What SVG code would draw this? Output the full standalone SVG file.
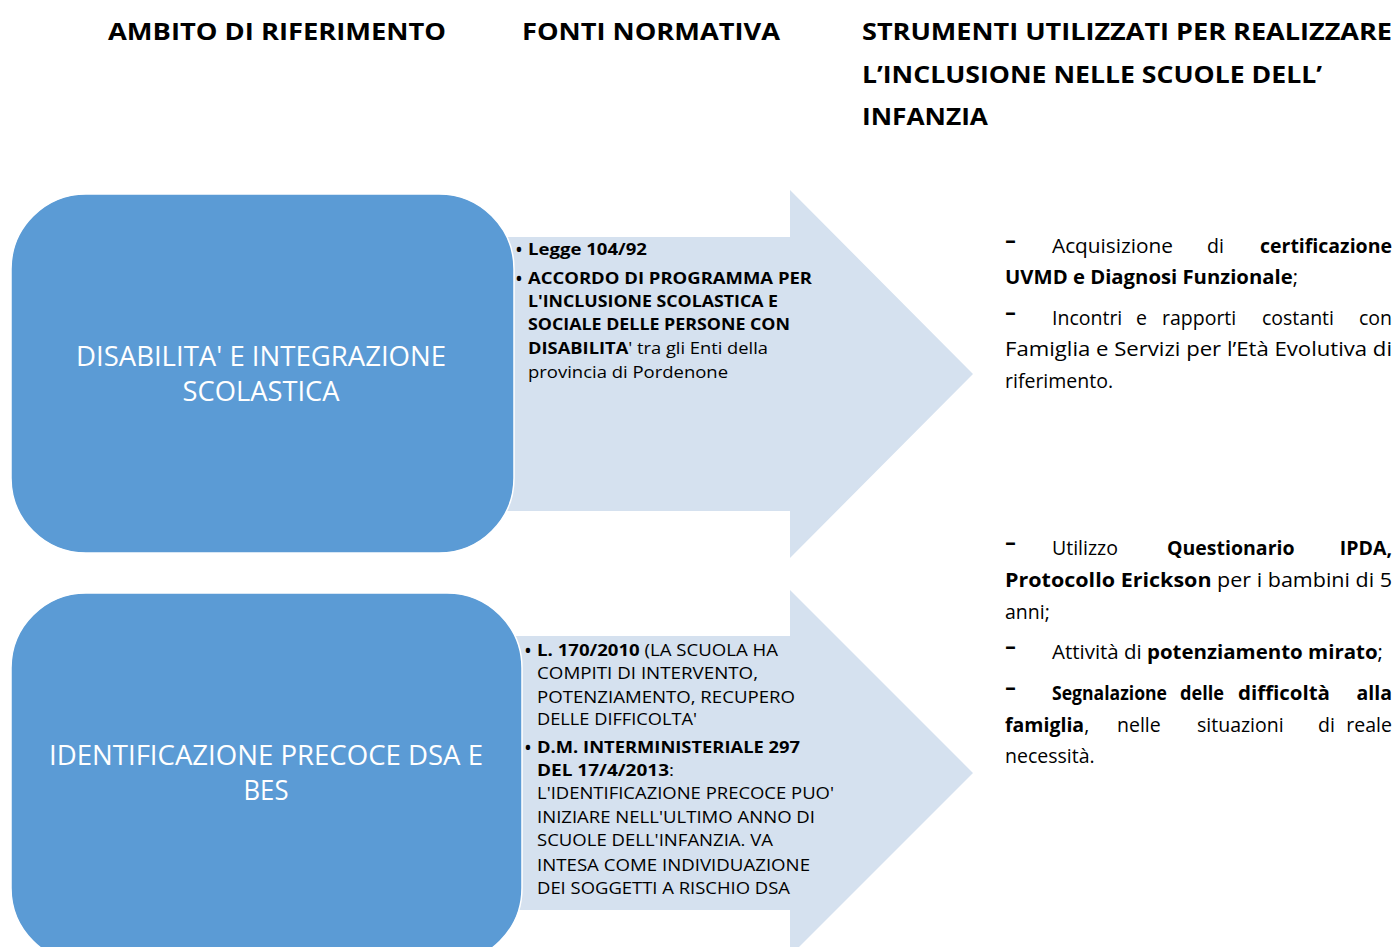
<svg xmlns="http://www.w3.org/2000/svg" width="1397" height="947" viewBox="0 0 1397 947">
<style>
text{font-family:"Open Sans","Noto Sans","Liberation Sans",sans-serif;fill:#000}
.h{font-weight:700;font-size:24px}
.box{fill:#5B9BD5;stroke:#fff;stroke-width:1.5}
.arr{fill:#D5E1EF}
.bt{fill:#fff;font-size:28px;text-anchor:middle}
.at{font-size:16.5px}
.bl{font-size:21px}
.b{font-weight:700}
.rt{font-size:19.5px}
.d{font-size:22px;font-weight:700}
.e{text-anchor:end}
</style>
<rect width="1397" height="947" fill="#fff"/>
<g id="headers">
<text class="h" x="108" y="40" textLength="338" lengthAdjust="spacingAndGlyphs">AMBITO DI RIFERIMENTO</text>
<text class="h" x="522" y="40" textLength="258" lengthAdjust="spacingAndGlyphs">FONTI NORMATIVA</text>
<text class="h" x="862" y="40" textLength="530" lengthAdjust="spacingAndGlyphs">STRUMENTI UTILIZZATI PER REALIZZARE</text>
<text class="h" x="862" y="83" textLength="460" lengthAdjust="spacingAndGlyphs">L’INCLUSIONE NELLE SCUOLE DELL’</text>
<text class="h" x="862" y="125" textLength="126" lengthAdjust="spacingAndGlyphs">INFANZIA</text>
</g>
<g id="connectors">
<polygon id="arrow1" class="arr" points="505,237 790,237 790,190 973,374 790,558 790,511 505,511"/>
<polygon id="arrow2" class="arr" points="512,636 790,636 790,590 973,773 790,956 790,910 512,910"/>
</g>
<g id="node1">
<rect class="box" x="11" y="194" width="503" height="359" rx="75" ry="75"/>
<text class="bt" x="261" y="366" textLength="370" lengthAdjust="spacingAndGlyphs">DISABILITA' E INTEGRAZIONE</text>
<text class="bt" x="261" y="401" textLength="157" lengthAdjust="spacingAndGlyphs">SCOLASTICA</text>
</g>
<g id="node2">
<rect class="box" x="11" y="593" width="511" height="370" rx="75" ry="75"/>
<text class="bt" x="266" y="765" textLength="434" lengthAdjust="spacingAndGlyphs">IDENTIFICAZIONE PRECOCE DSA E</text>
<text class="bt" x="266" y="800" textLength="45" lengthAdjust="spacingAndGlyphs">BES</text>
</g>
<g id="fonti1" class="at">
<text x="515" y="257" class="bl">•</text>
<text x="528" y="255" class="b" textLength="119" lengthAdjust="spacingAndGlyphs">Legge 104/92</text>
<text x="515" y="286" class="bl">•</text>
<text x="528" y="284" class="b" textLength="284" lengthAdjust="spacingAndGlyphs">ACCORDO DI PROGRAMMA PER</text>
<text x="528" y="307" class="b" textLength="250" lengthAdjust="spacingAndGlyphs">L'INCLUSIONE SCOLASTICA E</text>
<text x="528" y="330" class="b" textLength="262" lengthAdjust="spacingAndGlyphs">SOCIALE DELLE PERSONE CON</text>
<text x="528" y="354" textLength="240" lengthAdjust="spacingAndGlyphs"><tspan class="b">DISABILITA</tspan>' tra gli Enti della</text>
<text x="528" y="378" textLength="200" lengthAdjust="spacingAndGlyphs">provincia di Pordenone</text>
</g>
<g id="fonti2" class="at">
<text x="524" y="658" class="bl">•</text>
<text x="537" y="656" textLength="241" lengthAdjust="spacingAndGlyphs"><tspan class="b">L. 170/2010</tspan> (LA SCUOLA HA</text>
<text x="537" y="679" textLength="221" lengthAdjust="spacingAndGlyphs">COMPITI DI INTERVENTO,</text>
<text x="537" y="703" textLength="258" lengthAdjust="spacingAndGlyphs">POTENZIAMENTO, RECUPERO</text>
<text x="537" y="725" textLength="160" lengthAdjust="spacingAndGlyphs">DELLE DIFFICOLTA'</text>
<text x="524" y="755" class="bl">•</text>
<text x="537" y="753" class="b" textLength="263" lengthAdjust="spacingAndGlyphs">D.M. INTERMINISTERIALE 297</text>
<text x="537" y="776" textLength="137" lengthAdjust="spacingAndGlyphs"><tspan class="b">DEL 17/4/2013</tspan>:</text>
<text x="537" y="799" textLength="297" lengthAdjust="spacingAndGlyphs">L'IDENTIFICAZIONE PRECOCE PUO'</text>
<text x="537" y="823" textLength="278" lengthAdjust="spacingAndGlyphs">INIZIARE NELL'ULTIMO ANNO DI</text>
<text x="537" y="846" textLength="236" lengthAdjust="spacingAndGlyphs">SCUOLE DELL'INFANZIA. VA</text>
<text x="537" y="871" textLength="273" lengthAdjust="spacingAndGlyphs">INTESA COME INDIVIDUAZIONE</text>
<text x="537" y="894" textLength="253" lengthAdjust="spacingAndGlyphs">DEI SOGGETTI A RISCHIO DSA</text>
</g>
<g id="strumenti1" class="rt">
<text x="1005" y="247" class="d" textLength="11" lengthAdjust="spacingAndGlyphs">-</text>
<text x="1052" y="253" textLength="121" lengthAdjust="spacingAndGlyphs">Acquisizione</text>
<text x="1207" y="253">di</text>
<text x="1392" y="253" class="b e">certificazione</text>
<text x="1005" y="284" textLength="293" lengthAdjust="spacingAndGlyphs"><tspan class="b">UVMD e Diagnosi Funzionale</tspan>;</text>
<text x="1005" y="319" class="d" textLength="11" lengthAdjust="spacingAndGlyphs">-</text>
<text x="1052" y="325">Incontri</text>
<text x="1136" y="325">e</text>
<text x="1162" y="325">rapporti</text>
<text x="1262" y="325">costanti</text>
<text x="1392" y="325" class="e">con</text>
<text x="1005" y="356" textLength="387" lengthAdjust="spacingAndGlyphs">Famiglia e Servizi per l’Età Evolutiva di</text>
<text x="1005" y="388">riferimento.</text>
</g>
<g id="strumenti2" class="rt">
<text x="1005" y="549" class="d" textLength="11" lengthAdjust="spacingAndGlyphs">-</text>
<text x="1052" y="555">Utilizzo</text>
<text x="1167" y="555" class="b">Questionario</text>
<text x="1392" y="555" class="b e">IPDA,</text>
<text x="1005" y="587" textLength="387" lengthAdjust="spacingAndGlyphs"><tspan class="b">Protocollo Erickson</tspan> per i bambini di 5</text>
<text x="1005" y="619">anni;</text>
<text x="1005" y="653" class="d" textLength="11" lengthAdjust="spacingAndGlyphs">-</text>
<text x="1052" y="659" textLength="331" lengthAdjust="spacingAndGlyphs">Attività di <tspan class="b">potenziamento mirato</tspan>;</text>
<text x="1005" y="694" class="d" textLength="11" lengthAdjust="spacingAndGlyphs">-</text>
<text x="1052" y="700" class="b" textLength="115" lengthAdjust="spacingAndGlyphs">Segnalazione</text>
<text x="1180" y="700" class="b" textLength="44" lengthAdjust="spacingAndGlyphs">delle</text>
<text x="1238" y="700" class="b" textLength="92" lengthAdjust="spacingAndGlyphs">difficoltà</text>
<text x="1392" y="700" class="b e">alla</text>
<text x="1005" y="732"><tspan class="b">famiglia</tspan>,</text>
<text x="1117" y="732">nelle</text>
<text x="1197" y="732">situazioni</text>
<text x="1318" y="732">di</text>
<text x="1392" y="732" class="e">reale</text>
<text x="1005" y="763">necessità.</text>
</g>
</svg>
